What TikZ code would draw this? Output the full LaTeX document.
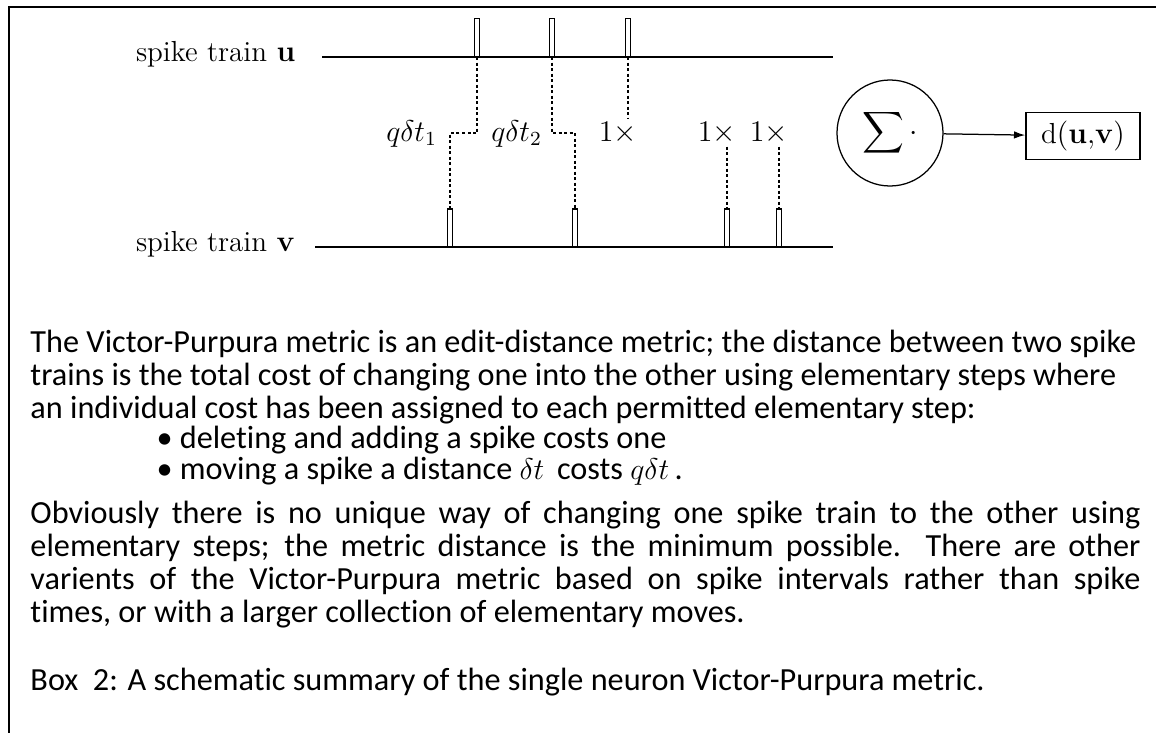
\documentclass[tikz,border=0pt]{standalone}
\usepackage{amsmath,amssymb}
\usepackage[no-math]{fontspec}
\setmainfont{Carlito}[Ligatures=NoCommon]
\usetikzlibrary{arrows.meta,positioning}

\begin{document}
\begin{tikzpicture}[x=0.4pt,y=-0.4pt,
    lbl/.style={font=\fontfamily{lmr}\fontsize{11.6}{14}\selectfont,inner sep=1pt},
    spk/.style={draw,fill=white,line width=0.5pt,minimum width=2pt,minimum height=15pt,inner sep=0pt,anchor=south},
    trn/.style={line width=0.6pt},
    dsh/.style={line width=0.6pt,dash pattern=on 1.2pt off 1pt},
    txt/.style={anchor=base west,inner sep=0pt,font=\fontsize{12.9}{13.2}\selectfont},
    a/.style={-{Latex[length=4.5pt,width=3pt]},line width=0.5pt}]
    \useasboundingbox (0,0) rectangle (1156,733);
    \draw[line width=0.8pt] (9,733) -- (9,7) -- (1156,7);

    % the two trains
    \node[lbl,anchor=base west] (ulbl) at (133,62) {spike train $\mathbf{u}$};
    \node[lbl,anchor=base west] (vlbl) at (133,251) {spike train $\mathbf{v}$};
    \coordinate (ua) at (322,57); \coordinate (ub) at (833,57);
    \coordinate (va) at (315,247); \coordinate (vb) at (833,247);
    \draw[trn] (ua)--(ub);
    \draw[trn] (va)--(vb);
    \foreach \x/\i in {477/1,552/2,628/3}{\node[spk] (u\i) at (\x,57) {};}
    \foreach \x/\i in {450/1,575/2,727/3,779/4}{\node[spk] (v\i) at (\x,247) {};}

    % moves and costs
    \draw[dsh] (u1.south) -- ++(0,76) -| (v1.north);
    \draw[dsh] (u2.south) -- ++(0,76) -| (v2.north);
    \node[lbl,anchor=base east] (c1) at (440,141) {$q\delta t_1$};
    \node[lbl,anchor=base east] (c2) at (545,141) {$q\delta t_2$};
    \node[lbl,anchor=base east] (d1) at (640,141) {$1\times$};
    \node[lbl,anchor=base east] (d2) at (739,141) {$1\times$};
    \node[lbl,anchor=base east] (d3) at (791,141) {$1\times$};
    \draw[dsh] (u3.south) -- (u3.south |- d1.north);
    \draw[dsh] (v3.north |- d2.south) -- (v3.north);
    \draw[dsh] (v4.north |- d3.south) -- (v4.north);

    \node[lbl,draw,circle,line width=0.5pt,minimum size=42.4pt] (sum) at (890,133)
      {$\displaystyle\sum\cdot$};
    \node[lbl,draw,line width=0.6pt,minimum width=45.6pt,minimum height=18.8pt] (dist) at (1083,136)
      {d$(\mathbf{u},\!\mathbf{v})$};
    \draw[a] (sum) -- (dist);

    % caption text
    \node[txt] (l1) at (30,352) {The Victor-Purpura metric is an edit-distance metric; the distance between two spike};
    \node[txt] (l2) at (30,385) {trains is the total cost of changing one into the other using elementary steps where};
    \node[txt] (l3) at (30,418) {an individual cost has been assigned to each permitted elementary step:};
    \node[txt] (b1) at (156,448) {\textbullet\ deleting and adding a spike costs one};
    \node[txt] (b2) at (156,479) {\textbullet\ moving a spike a distance $\delta t$\, costs $q\delta t$\,.};
    \node[txt] (p1) at (30,523) {\makebox[444pt][s]{Obviously there is no unique way of changing one spike train to the other using}};
    \node[txt] (p2) at (30,556) {\makebox[444pt][s]{elementary steps; the metric distance is the minimum possible.\ \ There are other}};
    \node[txt] (p3) at (30,589) {\makebox[444pt][s]{varients of the Victor-Purpura metric based on spike intervals rather than spike}};
    \node[txt] (p4) at (30,622) {times, or with a larger collection of elementary moves.};
    \node[txt] (cap) at (30,690) {Box\ \ 2: A schematic summary of the single neuron Victor-Purpura metric.};
  \end{tikzpicture}
\end{document}
